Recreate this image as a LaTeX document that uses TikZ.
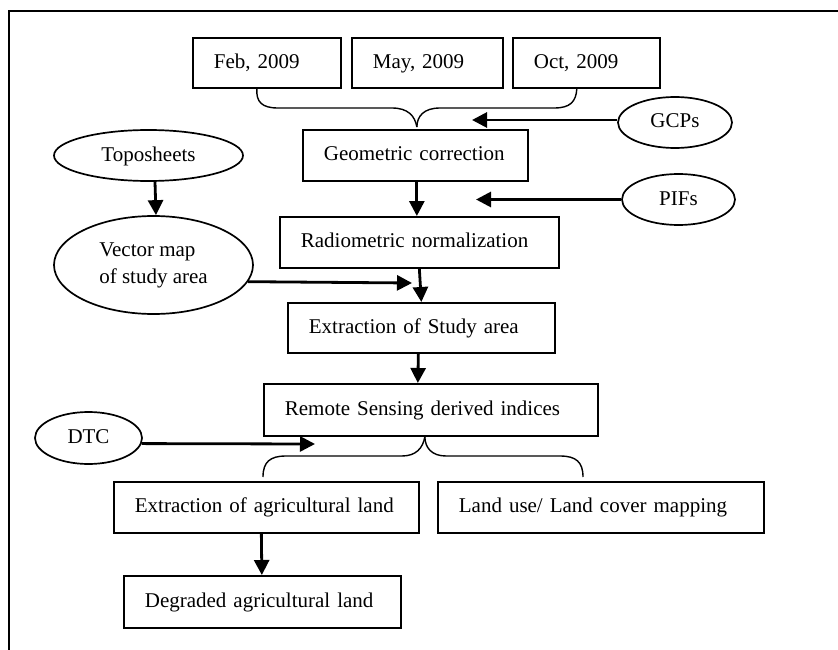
\documentclass[tikz,border=0pt]{standalone}
\usepackage{fontspec}
\setmainfont{Liberation Serif}
\usetikzlibrary{arrows.meta,shapes.geometric,calc}
\begin{document}
\begin{tikzpicture}[x=1pt,y=-1pt,
  txt/.style={font=\fontsize{21}{27}\selectfont},
  box/.style={txt,draw,line width=1.7pt,rectangle,anchor=north west,inner xsep=21pt,inner ysep=0pt,align=left,text height=15pt,text depth=4pt},
  oval/.style={txt,draw,line width=1.7pt,ellipse,inner sep=0pt,align=left},
  one/.style={text height=15pt,text depth=4pt},
  arr/.style={line width=2.8pt,-{Triangle[length=15pt,width=15pt]}},
  brace/.style={line width=1.4pt},
  frame/.style={line width=1.4pt}]
\useasboundingbox (0,0) rectangle (838,650);
\draw[frame] (9,650) -- (9,11) -- (838,11);
% boxes
\node[box,text width=106pt,minimum height=50pt] (feb) at (192,37) {\mbox{Feb, 2009}};
\node[box,text width=109pt,minimum height=50pt] (may) at (351,37) {\mbox{May, 2009}};
\node[box,text width=105pt,minimum height=50pt] (oct) at (512,37) {\mbox{Oct, 2009}};
\node[box,text width=183pt,minimum height=51pt] (geo) at (302,129) {\mbox{Geometric correction}};
\node[box,text width=237pt,minimum height=51pt] (radio) at (279,216) {\mbox{Radiometric normalization}};
\node[box,text width=225pt,minimum height=50pt] (ext) at (287,302) {\mbox{Extraction of Study area}};
\node[box,text width=292pt,minimum height=52pt] (rs) at (263,383) {\mbox{Remote Sensing derived indices}};
\node[box,text width=263pt,minimum height=51pt] (agri) at (113,481) {\mbox{Extraction of agricultural land}};
\node[box,text width=284pt,minimum height=51pt] (land) at (437,481) {\mbox{Land use/ Land cover mapping}};
\node[box,text width=235pt,minimum height=52pt] (deg) at (123,575) {\mbox{Degraded agricultural land}};
% ellipses
\node[oval,one,minimum width=189pt,minimum height=51pt] (topo) at (148.5,155.5) {Toposheets};
\node[oval,minimum width=199pt,minimum height=98pt] (vec) at (153.5,265) {Vector map\\of study area};
\node[oval,one,minimum width=114pt,minimum height=51pt] (gcp) at (675,122.5) {GCPs};
\node[oval,one,minimum width=113pt,minimum height=51pt] (pif) at (678.5,199.5) {PIFs};
\node[oval,one,minimum width=107pt,minimum height=52pt] (dtc) at (88.5,438) {DTC};
% free ends
\coordinate (gcpend) at (472,120);
\coordinate (pifend) at (476,199.5);
\coordinate (vecend) at (412,283);
\coordinate (dtcend) at (315,444);
\coordinate (tp) at ([shift={(1.5,-2)}]geo.north);
\coordinate (bp) at ([xshift=-6pt]rs.south);
\coordinate (bl) at (263,477);
\coordinate (br) at (583,477);
% arrows
\draw[arr] ([xshift=6.5pt]topo.south) -- ([xshift=2.5pt]vec.north);
\draw[arr] ([xshift=1.5pt]geo.south) -- ([xshift=-2.5pt]radio.north);
\draw[arr] (radio.south) -- (ext.north);
\draw[arr] ([xshift=-3pt]ext.south) -- ([xshift=-13pt]rs.north);
\draw[arr] ([xshift=-5pt]agri.south) -- ([xshift=-0.5pt]deg.north);
\draw[arr] (gcp.west |- gcpend) -- (gcpend);
\draw[arr] (pif.west) -- (pifend);
\draw[arr] (vec.-10) -- (vecend);
\draw[arr] (dtc.-6.6) -- (dtcend);
% top brace
\draw[brace] ([xshift=-10pt]feb.south) .. controls (256,102) and (262,108) .. (278,108) -- (392,108)
  .. controls (408,108) and (415,116) .. (tp);
\draw[brace] (tp) .. controls (417,116) and (424,108) .. (440,108) -- (554,108)
  .. controls (570,108) and (576,102) .. ([xshift=-9.5pt]oct.south);
% bottom brace
\draw[brace] (bp) .. controls (423,448) and (416,456) .. (402,456) -- (286,456)
  .. controls (270,456) and (263,462) .. (bl);
\draw[brace] (bp) .. controls (425,448) and (432,456) .. (446,456) -- (560,456)
  .. controls (576,456) and (583,462) .. (br);
\end{tikzpicture}
\end{document}
